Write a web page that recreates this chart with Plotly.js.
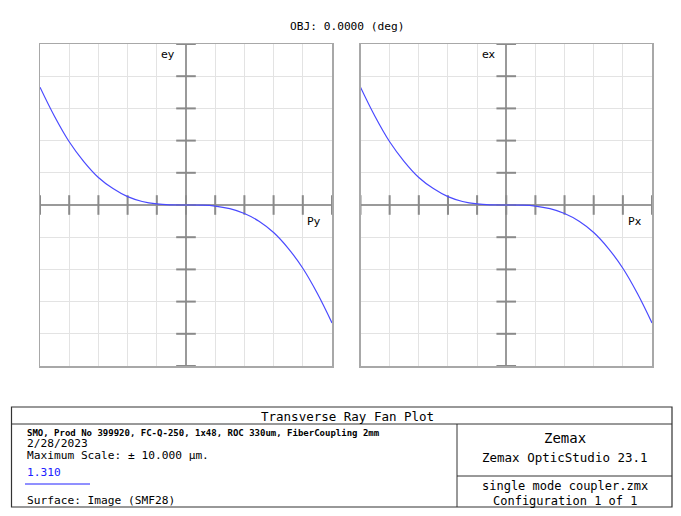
<!DOCTYPE html>
<html>
<head>
<meta charset="utf-8">
<script src="https://cdn.plot.ly/plotly-3.0.1.min.js"></script>
<style>html,body{margin:0;padding:0;background:#fff;}#chart{width:681px;height:516px;}</style>
</head>
<body>
<div id="chart"></div>
<script>
// Pupil coordinate (normalized) and ray aberration (µm)
var pupil = [-1.0,-0.9,-0.8,-0.7,-0.6,-0.5,-0.4,-0.3,-0.2,-0.1,0.0,0.1,0.2,0.3,0.4,0.5,0.6,0.7,0.8,0.9,1.0];
var ey = [7.32,5.50,3.93,2.70,1.71,1.02,0.52,0.22,0.065,0.01,0.0,-0.008,-0.065,-0.23,-0.53,-1.01,-1.71,-2.69,-3.93,-5.50,-7.33];
var ex = [7.32,5.50,3.93,2.70,1.71,1.02,0.52,0.22,0.065,0.01,0.0,-0.008,-0.065,-0.23,-0.53,-1.01,-1.71,-2.69,-3.93,-5.50,-7.33];
// Tick positions along the centre axes
var pTicks = [-1.0,-0.8,-0.6,-0.4,-0.2,0.0,0.2,0.4,0.6,0.8,1.0];
var eTicks = [-10,-8,-6,-4,-2,0,2,4,6,8,10];
var zerosP = pTicks.map(function(){return 0;});
var zerosE = eTicks.map(function(){return 0;});

var titleText = 'OBJ: 0.0000 (deg)';
var plotName = 'Transverse Ray Fan Plot';
var infoLines = ['2/28/2023', 'Maximum Scale: \u00b1 10.000 \u00b5m.'];
var descLine = 'SMO, Prod No 399920, FC-Q-250, 1x48, ROC 330um, FiberCoupling 2mm';
var wavelength = '1.310';
var surfaceLine = 'Surface: Image (SMF28)';

var curveColor = '#4a4aff';
var tickColor = '#8a8a8a';

function curve(x, y, xa, ya) {
  return {x: x, y: y, xaxis: xa, yaxis: ya, type: 'scatter', mode: 'lines',
    line: {color: curveColor, width: 1.2, shape: 'spline', smoothing: 1.1}, hoverinfo: 'skip'};
}
function tickTrace(x, y, xa, ya, sym) {
  return {x: x, y: y, xaxis: xa, yaxis: ya, type: 'scatter', mode: 'markers',
    marker: {symbol: sym, size: 14, line: {color: tickColor, width: 2}, color: tickColor},
    cliponaxis: false, hoverinfo: 'skip'};
}

var data = [
  tickTrace(pTicks, zerosP, 'x', 'y', 'line-ns'),
  tickTrace(zerosE, eTicks, 'x', 'y', 'line-ew'),
  tickTrace(pTicks, zerosP, 'x2', 'y2', 'line-ns'),
  tickTrace(zerosE, eTicks, 'x2', 'y2', 'line-ew'),
  curve(pupil, ey, 'x', 'y'),
  curve(pupil, ex, 'x2', 'y2')
];

var W = 681, H = 516;
function px(v){return v / W;}
function py(v){return 1 - v / H;}

function xax(dom, anchor) {
  return {domain: dom, range: [-1, 1], dtick: 0.2, tick0: -1, showgrid: true, gridcolor: '#e3e3e3', gridwidth: 1,
    zeroline: true, zerolinecolor: '#9a9a9a', zerolinewidth: 2, showline: true, mirror: true,
    linecolor: '#a8a8a8', linewidth: 1.5, showticklabels: false, ticks: '', anchor: anchor, fixedrange: true};
}
function yax(anchor) {
  return {domain: [py(366), py(44)], range: [-10, 10], dtick: 2, tick0: -10, showgrid: true, gridcolor: '#e3e3e3', gridwidth: 1,
    zeroline: true, zerolinecolor: '#9a9a9a', zerolinewidth: 2, showline: true, mirror: true,
    linecolor: '#a8a8a8', linewidth: 1.5, showticklabels: false, ticks: '', anchor: anchor, fixedrange: true};
}

var mono = 'DejaVu Sans Mono';
function note(text, x, y, size, opts) {
  var a = {text: text, x: px(x), y: py(y), xref: 'paper', yref: 'paper', showarrow: false,
    xanchor: 'left', yanchor: 'middle', font: {family: mono, size: size, color: '#000'}};
  if (opts) for (var k in opts) a[k] = opts[k];
  return a;
}

var annotations = [
  note(titleText, 347, 27, 11.2, {xanchor: 'center'}),
  {text: 'ey', x: -0.12, y: 9.35, xref: 'x', yref: 'y', showarrow: false, font: {family: 'DejaVu Sans', size: 11, color: '#000'}},
  {text: 'Py', x: 0.88, y: -1.05, xref: 'x', yref: 'y', showarrow: false, font: {family: 'DejaVu Sans', size: 11, color: '#000'}},
  {text: 'ex', x: -0.12, y: 9.35, xref: 'x2', yref: 'y2', showarrow: false, font: {family: 'DejaVu Sans', size: 11, color: '#000'}},
  {text: 'Px', x: 0.88, y: -1.05, xref: 'x2', yref: 'y2', showarrow: false, font: {family: 'DejaVu Sans', size: 11, color: '#000'}},
  note(plotName, 347, 416.5, 12.5, {xanchor: 'center'}),
  note('<b>' + descLine + '</b>', 25, 432.5, 9),
  note(infoLines[0], 25, 443, 11.2),
  note(infoLines[1], 25, 455, 11.2),
  note(wavelength, 25, 472, 11.2, {font: {family: mono, size: 11.2, color: '#2020ff'}}),
  note(surfaceLine, 25, 500, 11.2),
  note('Zemax', 565, 438, 14, {xanchor: 'center'}),
  note('Zemax OpticStudio 23.1', 565, 457, 12.5, {xanchor: 'center'}),
  note('single mode coupler.zmx', 565, 486, 12, {xanchor: 'center'}),
  note('Configuration 1 of 1', 565, 500.5, 12, {xanchor: 'center'})
];

var lc = '#333';
var shapes = [
  {type: 'rect', xref: 'paper', yref: 'paper', x0: px(11.5), x1: px(672), y0: py(507), y1: py(407), line: {color: lc, width: 1.2}},
  {type: 'line', xref: 'paper', yref: 'paper', x0: px(11.5), x1: px(672), y0: py(424), y1: py(424), line: {color: lc, width: 1}},
  {type: 'line', xref: 'paper', yref: 'paper', x0: px(457), x1: px(457), y0: py(424), y1: py(507), line: {color: lc, width: 1}},
  {type: 'line', xref: 'paper', yref: 'paper', x0: px(457), x1: px(672), y0: py(476), y1: py(476), line: {color: lc, width: 1}},
  {type: 'line', xref: 'paper', yref: 'paper', x0: px(25), x1: px(90), y0: py(484), y1: py(484), line: {color: '#2020ff', width: 1}}
];

var layout = {
  width: W, height: H, margin: {l: 0, r: 0, t: 0, b: 0},
  paper_bgcolor: '#fff', plot_bgcolor: '#fff', showlegend: false,
  xaxis: xax([px(40), px(332)], 'y'),
  yaxis: yax('x'),
  xaxis2: xax([px(360.5), px(652)], 'y2'),
  yaxis2: yax('x2'),
  annotations: annotations,
  shapes: shapes
};

Plotly.newPlot('chart', data, layout, {displayModeBar: false, staticPlot: true});
</script>
</body>
</html>
